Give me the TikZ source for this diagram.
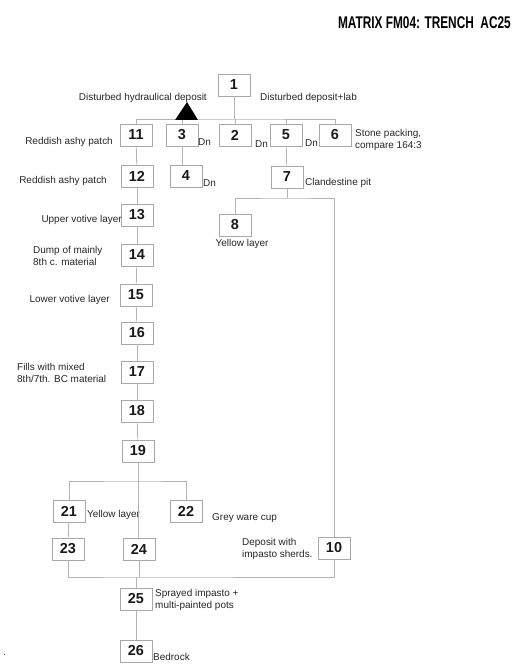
\documentclass[tikz,border=0pt]{standalone}
\usepackage{fontspec}
\setmainfont{Liberation Sans}
\definecolor{boxgray}{HTML}{A8A8A8}
\definecolor{linegray}{HTML}{B4B4B4}
\begin{document}
\begin{tikzpicture}[x=1bp,y=-1bp,
  box/.style={draw=boxgray, line width=0.8bp, minimum width=32bp, minimum height=22bp, inner sep=0pt,
    font=\fontsize{14.5}{14.5}\selectfont\bfseries, text=black!90},
  lbl/.style={font=\fontsize{10}{11.5}\selectfont, text=black!85, inner sep=0pt},
  conn/.style={draw=linegray, line width=0.8bp}]
\useasboundingbox (0,0) rectangle (515,664);
% title
\node[anchor=east, inner sep=0pt, font=\fontsize{17}{17}\selectfont\bfseries] (title) at (511,23)
  {\scalebox{0.7}[1]{MATRIX FM04: TRENCH\ \ AC25}};
% boxes
\node[box] (n1) at (234,85) {1};
\node[box] (n11) at (136,135) {11};
\node[box] (n3) at (182,135) {3};
\node[box] (n2) at (235,135) {2};
\node[box] (n5) at (286,135) {5};
\node[box] (n6) at (335,135) {6};
\node[box] (n12) at (137,176) {12};
\node[box] (n4) at (186,176) {4};
\node[box] (n7) at (287,177) {7};
\node[box] (n13) at (137,215) {13};
\node[box] (n8) at (235,225) {8};
\node[box] (n14) at (137,255) {14};
\node[box] (n15) at (136,295) {15};
\node[box] (n16) at (137,333) {16};
\node[box] (n17) at (137,372) {17};
\node[box] (n18) at (137,411) {18};
\node[box] (n19) at (138,451) {19};
\node[box] (n21) at (69,511) {21};
\node[box] (n22) at (186,511) {22};
\node[box] (n23) at (68,549) {23};
\node[box] (n24) at (139,549) {24};
\node[box] (n10) at (334,548) {10};
\node[box] (n25) at (136,599) {25};
\node[box] (n26) at (136,651) {26};
% labels
\node[lbl, anchor=east] (l1a) at (207,98) {Disturbed hydraulical deposit};
\node[lbl, anchor=west] (l1b) at (260,98) {Disturbed deposit+lab};
\node[lbl, anchor=west] (d3) at (198,142) {Dn};
\node[lbl, anchor=west] (d2) at (255,144) {Dn};
\node[lbl, anchor=west] (d5) at (305,143) {Dn};
\node[lbl, anchor=west] (d4) at (203,183) {Dn};
\node[lbl, anchor=west, align=left] (l6) at (355,140) {Stone packing,\\compare 164:3};
\node[lbl, anchor=west] (l7) at (305,183) {Clandestine pit};
\node[lbl] (l8) at (242,244) {Yellow layer};
\node[lbl, anchor=east] (l11) at (113,142) {Reddish ashy patch};
\node[lbl, anchor=east] (l12) at (107,181) {Reddish ashy patch};
\node[lbl, anchor=east] (l13) at (122,220) {Upper votive layer};
\node[lbl, anchor=west, align=left] (l14) at (33,256) {Dump of mainly\\8th c. material};
\node[lbl, anchor=east] (l15) at (110,300) {Lower votive layer};
\node[lbl, anchor=west, align=left] (l17) at (17,373) {Fills with mixed\\8th/7th. BC material};
\node[lbl, anchor=west] (l21) at (87,515) {Yellow layer};
\node[lbl, anchor=west] (l22) at (212,518) {Grey ware cup};
\node[lbl, anchor=west, align=left] (l10) at (242,549) {Deposit with\\impasto sherds.};
\node[lbl, anchor=west, align=left] (l25) at (155,600) {Sprayed impasto +\\multi-painted pots};
\node[lbl, anchor=west] (l26) at (153,657) {Bedrock};
\node[lbl, anchor=west] (dot) at (3,655) {.};
% connectors
\coordinate (b1) at (234,119);
\draw[conn] (n1.south) -- (b1);
\draw[conn] (n11.north) |- (b1) -| (n6.north);
\draw[conn] (n3.north) -- (n3.north |- b1);
\draw[conn] (n2.north) -- (n2.north |- b1);
\draw[conn] (n5.north) -- (n5.north |- b1);
\fill[black] (175,120) -- (198,120) -- (187,102) -- cycle;
\draw[conn] (n11) -- (n12);
\draw[conn] (n12) -- (n13);
\draw[conn] (n13) -- (n14);
\draw[conn] (n14) -- (n15);
\draw[conn] (n15) -- (n16);
\draw[conn] (n16) -- (n17);
\draw[conn] (n17) -- (n18);
\draw[conn] (n18) -- (n19);
\draw[conn] (n3.south) -- (n3.south |- n4.north);
\draw[conn] (n5) -- (n7);
\coordinate (b7) at (287,198);
\draw[conn] (n7.south) -- (b7);
\draw[conn] (n8.north) |- (b7) -| (n10.north);
\coordinate (b19) at (138,481);
\draw[conn] (n19.south) -- (b19);
\draw[conn] (n21.north) |- (b19) -| (n22.north);
\draw[conn] (b19) -- (b19 |- n24.north);
\draw[conn] (n21) -- (n23);
\coordinate (b25) at (136,577);
\draw[conn] (n23.south) |- (b25) -| (n10.south);
\draw[conn] (n24.south) -- (n24.south |- b25);
\draw[conn] (b25) -- (n25.north);
\draw[conn] (n25) -- (n26);
\end{tikzpicture}
\end{document}
